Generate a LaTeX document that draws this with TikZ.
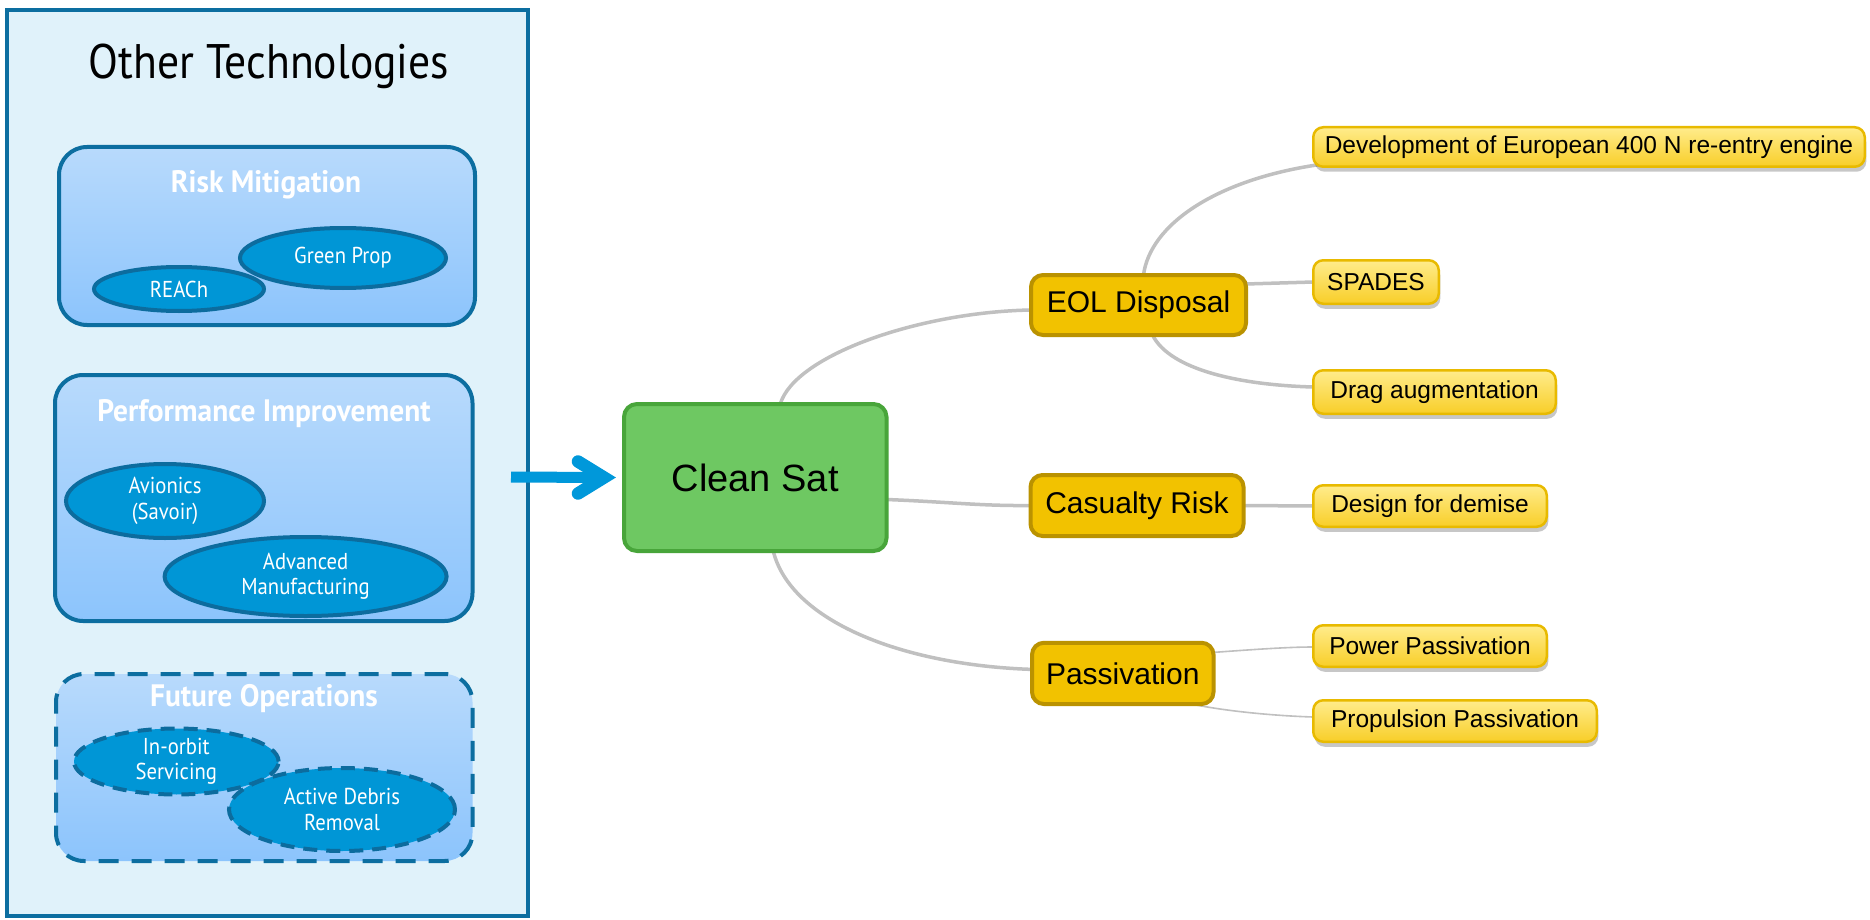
\documentclass[tikz,border=0pt]{standalone}
\usepackage{fontspec}
\setmainfont{Liberation Sans}
\newfontfamily\esa[FakeStretch=0.9]{PT Sans}
\newfontfamily\esab[FakeStretch=0.95]{PT Sans Bold}
\usetikzlibrary{shapes.geometric,shadows,backgrounds,calc}
\definecolor{panelfill}{RGB}{224,242,250}
\definecolor{paneldraw}{RGB}{12,110,160}
\definecolor{boxtop}{RGB}{184,218,252}
\definecolor{boxbot}{RGB}{140,196,252}
\definecolor{ellfill}{RGB}{0,150,214}
\definecolor{elldraw}{RGB}{12,108,158}
\definecolor{arrowblue}{RGB}{0,152,218}
\definecolor{satfill}{RGB}{110,200,98}
\definecolor{satdraw}{RGB}{72,165,58}
\definecolor{midfill}{RGB}{242,194,0}
\definecolor{middraw}{RGB}{186,146,0}
\definecolor{leaftop}{RGB}{255,236,140}
\definecolor{leafbot}{RGB}{248,206,40}
\definecolor{leafdraw}{RGB}{232,186,0}
\definecolor{linkgray}{RGB}{192,192,192}
\begin{document}
\begin{tikzpicture}[x=1pt,y=-1pt,
  panelbox/.style={draw=paneldraw, line width=4pt, fill=panelfill, inner sep=0pt, outer sep=0pt},
  groupbox/.style={draw=paneldraw, line width=4pt, rounded corners=28pt, top color=boxtop, bottom color=boxbot, inner sep=0pt, outer sep=0pt},
  groupdash/.style={groupbox, dash pattern=on 20pt off 13pt},
  grouptitle/.style={text=white, font=\esab\fontsize{31}{33}\selectfont, anchor=base, inner sep=0pt},
  techell/.style={ellipse, draw=elldraw, line width=4pt, fill=ellfill, text=white, align=center, inner sep=0pt, outer sep=0pt, font=\esa\fontsize{23}{25.5}\selectfont},
  techelldash/.style={techell, dash pattern=on 14pt off 9pt},
  arrowshaft/.style={draw=arrowblue, line width=11pt},
  arrowchev/.style={draw=arrowblue, line width=12.5pt, line cap=round, line join=miter},
  satbox/.style={draw=satdraw, fill=satfill, line width=4pt, rounded corners=13pt, inner sep=0pt, outer sep=0pt, font=\fontsize{38}{42}\selectfont},
  midbox/.style={draw=middraw, fill=midfill, line width=4pt, rounded corners=12pt, inner sep=0pt, outer sep=0pt, font=\fontsize{30}{34}\selectfont},
  leafbox/.style={draw=leafdraw, top color=leaftop, bottom color=leafbot, line width=2.5pt, rounded corners=10pt, inner sep=0pt, outer sep=0pt, font=\fontsize{24.5}{28}\selectfont, drop shadow={shadow xshift=1.5pt, shadow yshift=-5pt, fill=black, opacity=0.22}},
  link/.style={draw=linkgray, line width=3.5pt},
  thinlink/.style={draw=linkgray, line width=1.6pt}
]
\useasboundingbox (0,0) rectangle (1870,920);

% left panel
\node[panelbox, minimum width=521pt, minimum height=906pt] (panel) at (267.5,463) {};
\node[font=\esa\fontsize{48.5}{52}\selectfont, anchor=base, inner sep=0pt] (title) at (269,79) {Other Technologies};

% Risk Mitigation
\node[groupbox, minimum width=416pt, minimum height=178pt] (risk) at (267,236) {};
\node[grouptitle] (risktitle) at (266,193) {Risk Mitigation};
\node[techell, minimum width=206pt, minimum height=60pt] (green) at (343,258) {Green Prop};
\node[techell, minimum width=170pt, minimum height=44pt] (reach) at (179,289) {REACh};

% Performance Improvement
\node[groupbox, minimum width=417.5pt, minimum height=246pt] (perf) at (263.75,498) {};
\node[grouptitle] (perftitle) at (264,421) {Performance Improvement};
\node[techell, minimum width=198pt, minimum height=74pt] (avion) at (165,501) {Avionics\\(Savoir)};
\node[techell, minimum width=282pt, minimum height=79pt] (manuf) at (305.6,576.5) {Advanced\\Manufacturing};

% Future Operations
\node[groupdash, minimum width=416.5pt, minimum height=187pt] (future) at (264.25,767.5) {};
\node[grouptitle] (futuretitle) at (264,706.7) {Future Operations};
\node[techelldash, minimum width=204.6pt, minimum height=59pt] (orbit) at (176.3,761.5) {In-orbit\\Servicing};
\node[techelldash, minimum width=226pt, minimum height=83pt] (debris) at (342,809.5) {Active Debris\\Removal};

% mind map
\node[satbox, minimum width=262.5pt, minimum height=147pt] (cs) at (755.25,477.5) {Clean Sat};
\node[midbox, minimum width=215pt, minimum height=60pt] (eol) at (1138.5,305) {EOL Disposal};
\node[midbox, minimum width=213pt, minimum height=61pt] (cas) at (1137,505.5) {Casualty Risk};
\node[midbox, minimum width=181.5pt, minimum height=61.3pt] (pas) at (1122.75,673.4) {Passivation};

\node[leafbox, minimum width=551.5pt, minimum height=39.5pt] (dev) at (1589,147) {Development of European 400 N re-entry engine};
\node[leafbox, minimum width=125.5pt, minimum height=43.5pt] (spades) at (1376,282) {SPADES};
\node[leafbox, minimum width=242.5pt, minimum height=43.5pt] (drag) at (1434.5,392) {Drag augmentation};
\node[leafbox, minimum width=233.5pt, minimum height=41.5pt] (design) at (1430,506) {Design for demise};
\node[leafbox, minimum width=233.5pt, minimum height=41.5pt] (power) at (1430,646) {Power Passivation};
\node[leafbox, minimum width=283.5pt, minimum height=41.5pt] (prop) at (1455,721) {Propulsion Passivation};

% arrow
\coordinate (arrowstart) at (511,477);
\draw[arrowshaft] (arrowstart) -- ($(cs.west)+(-20,0)$);
\draw[arrowchev] ($(cs.west)+(-46,-16)$) -- ($(cs.west)+(-20,0)$) -- ($(cs.west)+(-46,16)$);

\begin{pgfonlayer}{background}
\fill[white] (0,0) rectangle (1870,920);
\draw[link] ($(cs.north)+(25,0)$) .. controls (795,355) and (920,312) .. ($(eol.west)+(0,5)$);
\draw[link] ($(cs.east)+(0,22)$) .. controls (950,502) and (980,506) .. (cas.west);
\draw[link] ($(cs.south)+(18,0)$) .. controls (790,620) and (900,665) .. ($(pas.west)+(0,-4)$);
\draw[link] ($(eol.north)+(5,0)$) .. controls (1150,225) and (1215,180) .. ($(dev.south west)+(5,-2)$);
\draw[link] ($(eol.east)+(0,-21)$) -- (spades.west);
\draw[link] ($(eol.south)+(14,0)$) .. controls (1170,370) and (1240,385) .. ($(drag.west)+(0,-5)$);
\draw[link] (cas.east) -- (design.west);
\draw[thinlink] ($(pas.east)+(0,-21)$) .. controls (1260,649) and (1290,647) .. ($(power.west)+(0,1)$);
\draw[thinlink] ($(pas.south east)+(-22,0)$) .. controls (1230,712) and (1280,716) .. ($(prop.west)+(0,-4)$);
\end{pgfonlayer}
\end{tikzpicture}
\end{document}
